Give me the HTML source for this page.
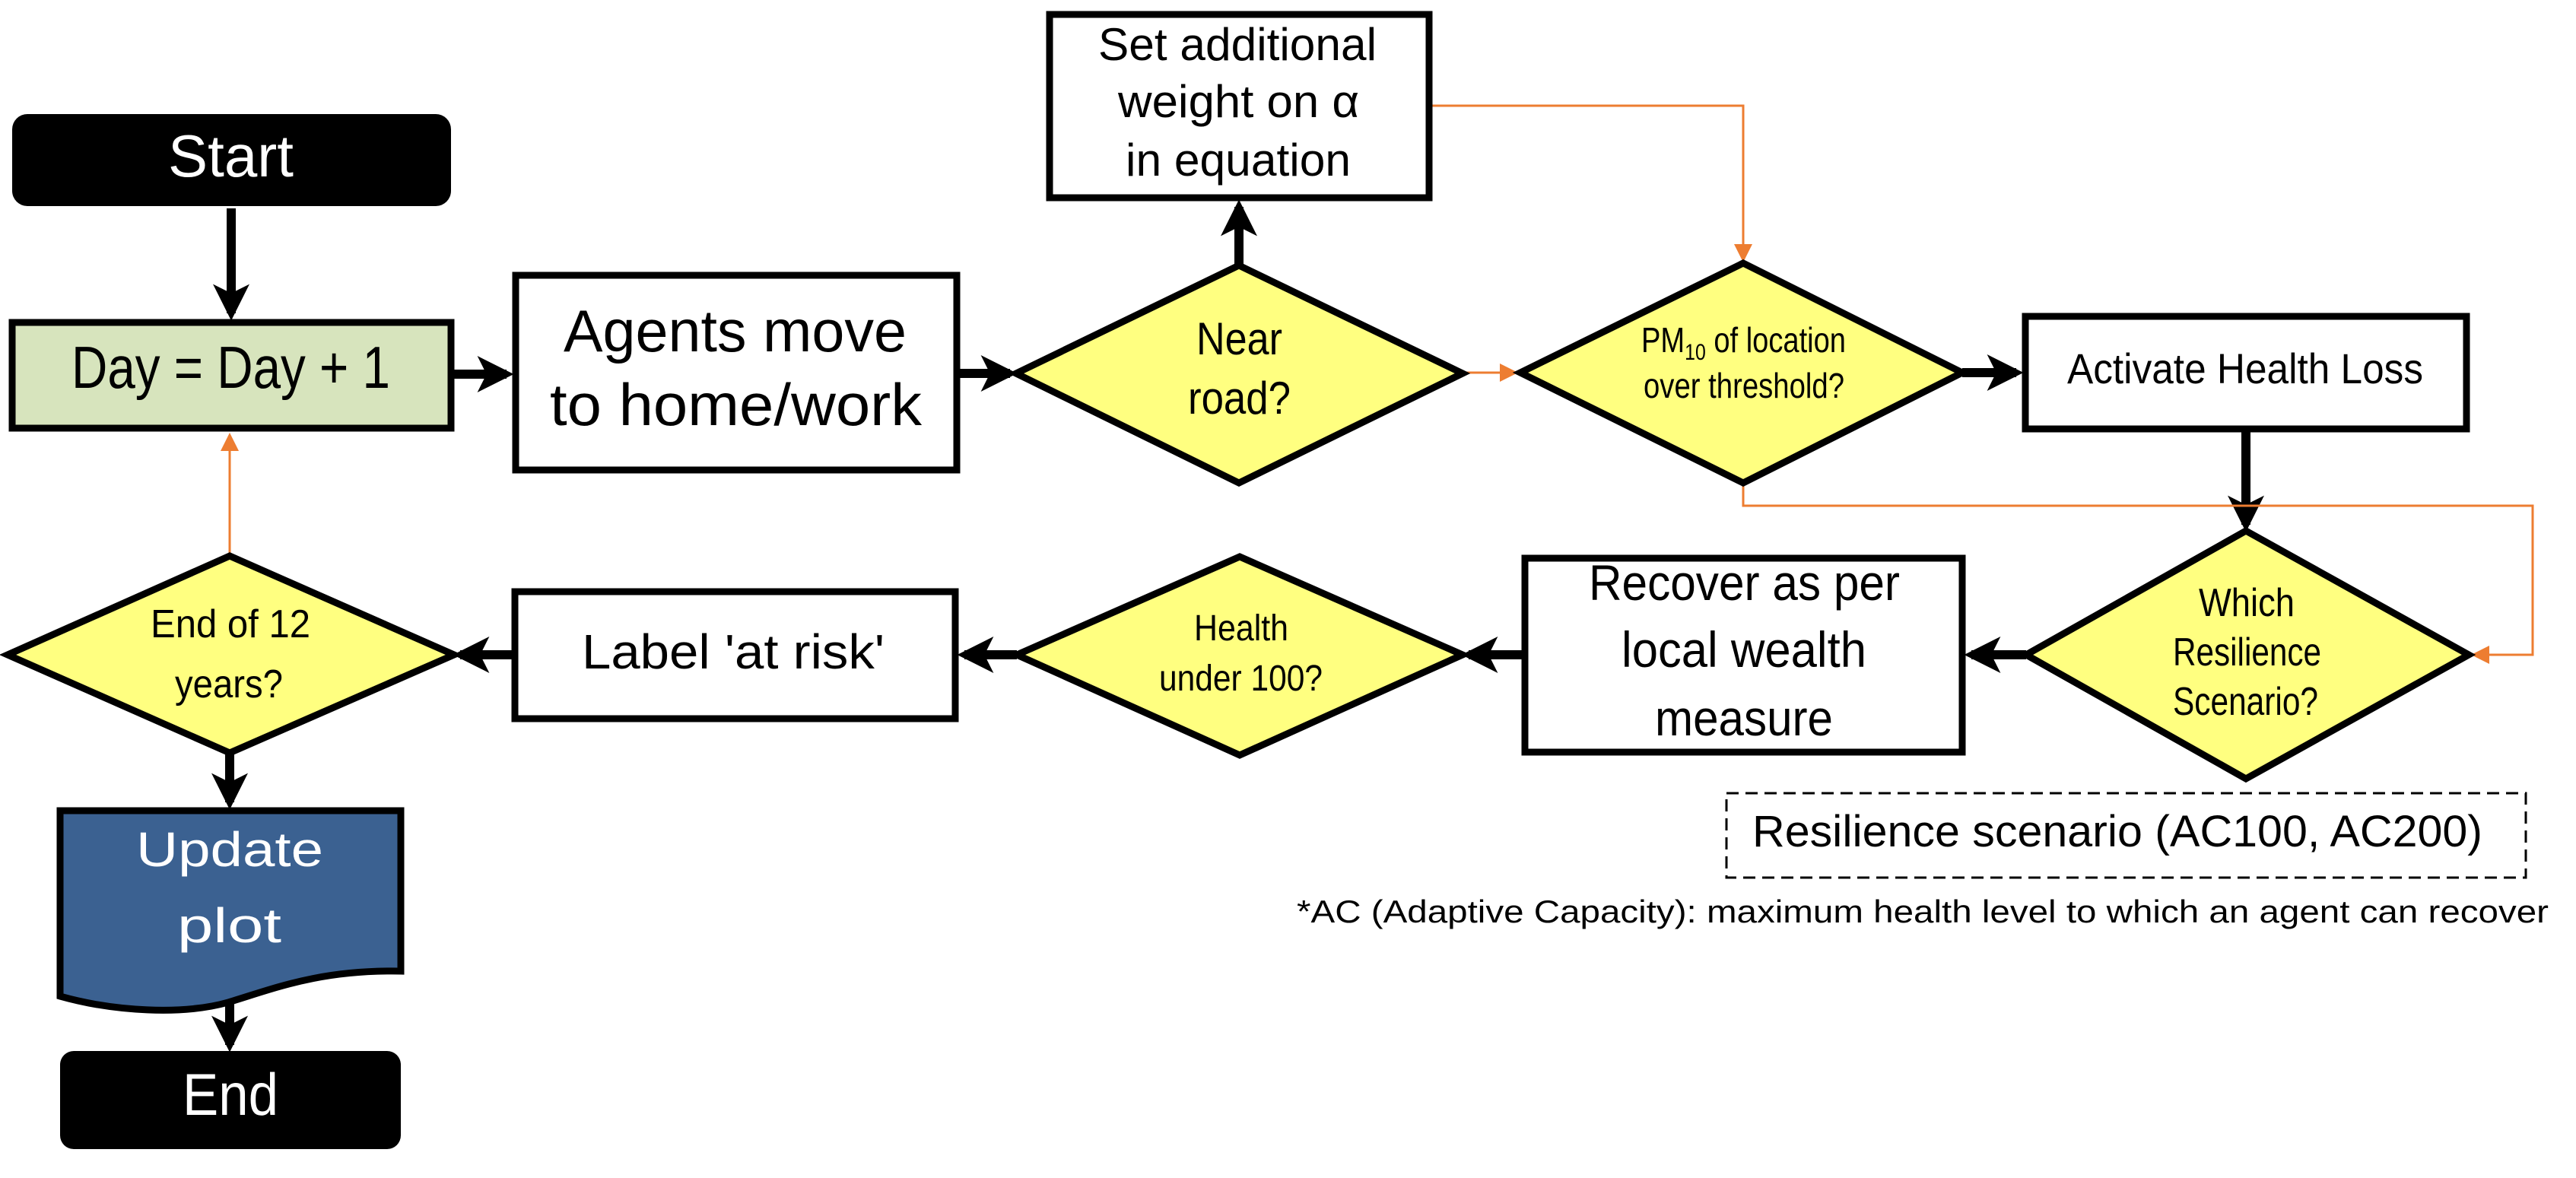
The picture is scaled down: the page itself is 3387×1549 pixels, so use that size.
<!DOCTYPE html>
<html><head><meta charset="utf-8"><style>html,body{margin:0;padding:0;background:#fff}svg{display:block}text{font-family:"Liberation Sans Narrow","Liberation Sans",sans-serif}</style></head>
<body>
<svg width="3387" height="1549" viewBox="0 0 3387 1549" xmlns="http://www.w3.org/2000/svg">
<defs>
<marker id="ab" markerWidth="4" markerHeight="4" refX="3.2" refY="2" orient="auto" markerUnits="strokeWidth"><path d="M0,0 L4,2 L0,4 L1,2 Z" fill="#000"/></marker>
<marker id="ao" markerWidth="8" markerHeight="8" refX="7" refY="4" orient="auto" markerUnits="strokeWidth"><path d="M0,0 L8,4 L0,8 Z" fill="#ed7d31"/></marker>
</defs>
<g stroke="#000" stroke-width="12" fill="none" marker-end="url(#ab)">
<line x1="304" y1="274" x2="304" y2="412"/>
<line x1="596" y1="492" x2="666" y2="492"/>
<line x1="1262" y1="491" x2="1328" y2="491"/>
<line x1="1629" y1="349" x2="1629" y2="272"/>
<line x1="2580" y1="490" x2="2651" y2="490"/>
<line x1="2953" y1="568" x2="2953" y2="690"/>
<line x1="2664" y1="861" x2="2592" y2="861"/>
<line x1="2001" y1="861" x2="1931" y2="861"/>
<line x1="1337" y1="861" x2="1268" y2="861"/>
<line x1="673" y1="861" x2="605" y2="861"/>
<line x1="302" y1="990" x2="302" y2="1055"/>
<line x1="302" y1="1300" x2="302" y2="1374"/>
</g>
<g stroke="#ed7d31" stroke-width="3" fill="none" marker-end="url(#ao)">
<polyline points="1883,139 2292,139 2292,342"/>
<line x1="1923" y1="490" x2="1993" y2="490"/>
<polyline points="2292,635 2292,665 3330,665 3330,861 3252,861"/>
<line x1="302" y1="731" x2="302" y2="572"/>
</g>
<rect x="16" y="150" width="577" height="121" rx="20" fill="#000"/>
<rect x="16" y="424" width="577" height="139" fill="#d7e4bd" stroke="#000" stroke-width="9"/>
<rect x="678" y="362" width="580" height="256" fill="#fff" stroke="#000" stroke-width="9"/>
<rect x="1380" y="19" width="499" height="241" fill="#fff" stroke="#000" stroke-width="9"/>
<rect x="2663" y="416" width="580" height="148" fill="#fff" stroke="#000" stroke-width="9"/>
<rect x="2005" y="734" width="575" height="255" fill="#fff" stroke="#000" stroke-width="9"/>
<rect x="677" y="778" width="579" height="167" fill="#fff" stroke="#000" stroke-width="9"/>
<g fill="#ffff80" stroke="#000" stroke-width="9" stroke-linejoin="miter">
<polygon points="1629,349 1923,491 1629,635 1336,491"/>
<polygon points="2292,346 2580,490 2292,635 1999,490"/>
<polygon points="2953,698 3246,861 2953,1024 2664,861"/>
<polygon points="1630,732 1923,861 1630,993 1337,861"/>
<polygon points="302,731 597,861 302,990 10,861"/>
</g>
<path d="M79,1066 L527,1066 L527,1277 C420,1275 360,1300 300,1318 C240,1335 150,1330 79,1310 Z" fill="#3b6191" stroke="#000" stroke-width="9"/>
<rect x="79" y="1382" width="448" height="129" rx="18" fill="#000"/>
<rect x="2270" y="1043" width="1051" height="111" fill="none" stroke="#000" stroke-width="3" stroke-dasharray="16,9"/>
<g font-size="78" fill="#000">
<text x="221" y="232" textLength="165" lengthAdjust="spacingAndGlyphs" fill="#fff">Start</text>
<text x="94" y="510" textLength="419" lengthAdjust="spacingAndGlyphs">Day = Day + 1</text>
<text x="741" y="462" textLength="451" lengthAdjust="spacingAndGlyphs">Agents move</text>
<text x="723" y="559" textLength="489" lengthAdjust="spacingAndGlyphs">to home/work</text>
<text x="240" y="1466" textLength="126" lengthAdjust="spacingAndGlyphs" fill="#fff">End</text>
</g>
<g font-size="60" fill="#000">
<text x="1444" y="79" textLength="366" lengthAdjust="spacingAndGlyphs">Set additional</text>
<text x="1470" y="154" textLength="317" lengthAdjust="spacingAndGlyphs">weight on α</text>
<text x="1480" y="231" textLength="296" lengthAdjust="spacingAndGlyphs">in equation</text>
<text x="1573" y="466" textLength="113" lengthAdjust="spacingAndGlyphs">Near</text>
<text x="1562" y="544" textLength="135" lengthAdjust="spacingAndGlyphs">road?</text>
<text x="2718" y="504" font-size="56" textLength="468" lengthAdjust="spacingAndGlyphs">Activate Health Loss</text>
<text x="2891" y="810" font-size="52" textLength="126" lengthAdjust="spacingAndGlyphs">Which</text>
<text x="2857" y="875" font-size="52" textLength="195" lengthAdjust="spacingAndGlyphs">Resilience</text>
<text x="2857" y="940" font-size="52" textLength="191" lengthAdjust="spacingAndGlyphs">Scenario?</text>
<text x="2089" y="789" font-size="66" textLength="409" lengthAdjust="spacingAndGlyphs">Recover as per</text>
<text x="2132" y="877" font-size="66" textLength="322" lengthAdjust="spacingAndGlyphs">local wealth</text>
<text x="2176" y="967" font-size="66" textLength="234" lengthAdjust="spacingAndGlyphs">measure</text>
<text x="1570" y="842" font-size="48" textLength="124" lengthAdjust="spacingAndGlyphs">Health</text>
<text x="1524" y="908" font-size="48" textLength="215" lengthAdjust="spacingAndGlyphs">under 100?</text>
<text x="765" y="879" font-size="64" textLength="398" lengthAdjust="spacingAndGlyphs">Label 'at risk'</text>
<text x="198" y="838" font-size="52" textLength="210" lengthAdjust="spacingAndGlyphs">End of 12</text>
<text x="230" y="917" font-size="52" textLength="142" lengthAdjust="spacingAndGlyphs">years?</text>
<text x="179" y="1139" font-size="64" fill="#fff" textLength="246" lengthAdjust="spacingAndGlyphs">Update</text>
<text x="233" y="1239" font-size="64" fill="#fff" textLength="137" lengthAdjust="spacingAndGlyphs">plot</text>
<text x="2304" y="1113" font-size="58" textLength="960" lengthAdjust="spacingAndGlyphs">Resilience scenario (AC100, AC200)</text>
<text x="1705" y="1213" font-size="42" textLength="1646" lengthAdjust="spacingAndGlyphs">*AC (Adaptive Capacity): maximum health level to which an agent can recover</text>
</g>
<g font-size="46" fill="#000">
<text x="2158" y="463" textLength="269" lengthAdjust="spacingAndGlyphs">PM<tspan font-size="30" dy="10">10</tspan><tspan dy="-10"> of location</tspan></text>
<text x="2161" y="523" textLength="264" lengthAdjust="spacingAndGlyphs">over threshold?</text>
</g>
</svg>
</body></html>
